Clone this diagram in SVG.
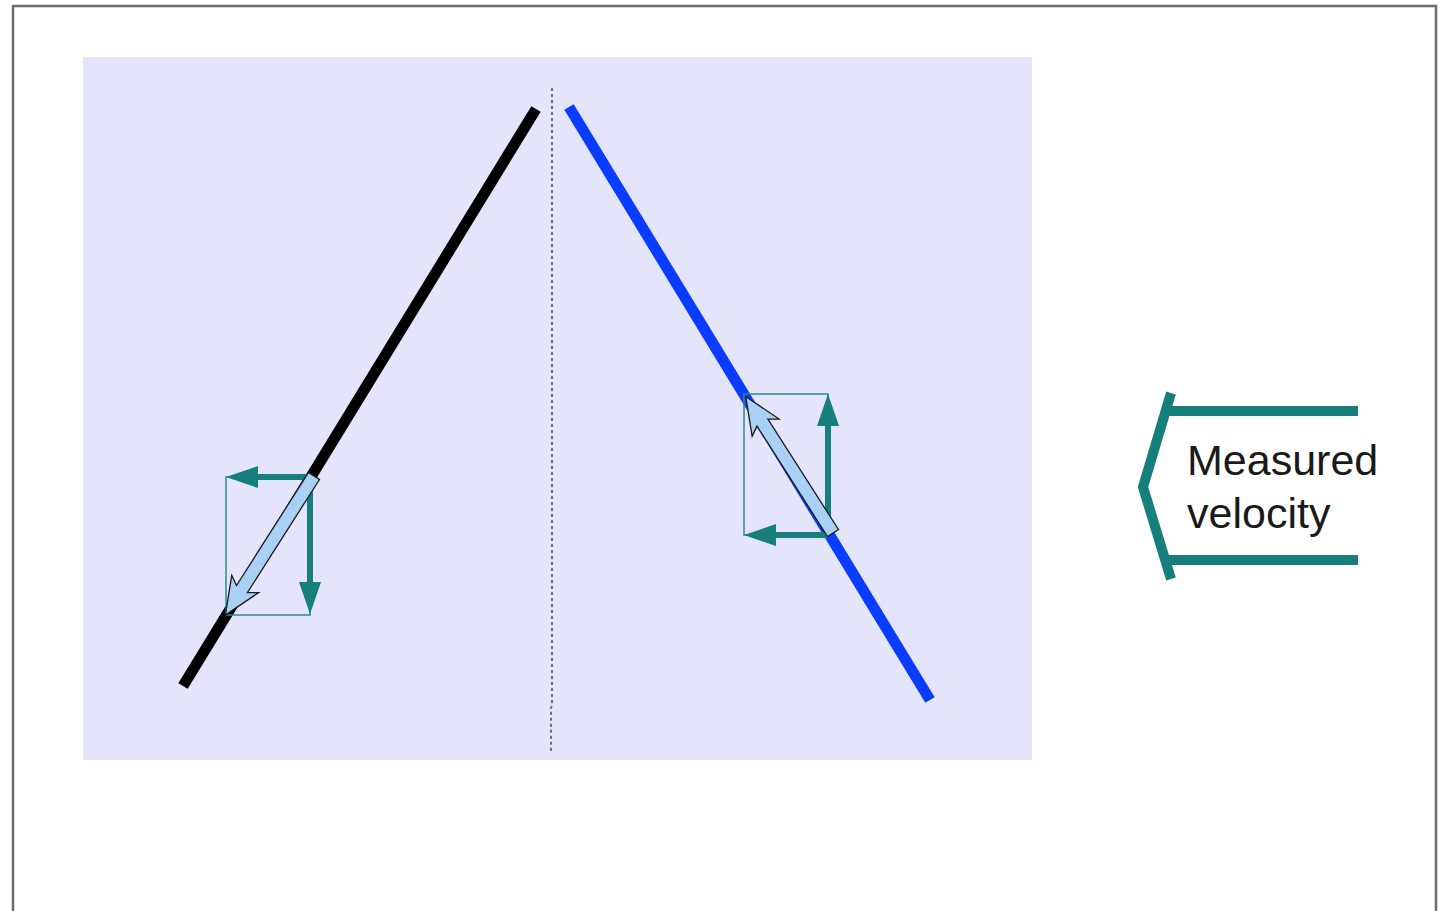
<svg xmlns="http://www.w3.org/2000/svg" width="1441" height="911" viewBox="0 0 1441 911">
<defs>
<style>
.teal{stroke:#167f7b;fill:none}
.vec{stroke:#167f7b;stroke-width:6;fill:none}
.head{fill:#167f7b;stroke:none}
.box{stroke:#2a8c88;stroke-width:1.5;fill:none}
.block{fill:#a9d0f5;stroke:#1a1a1a;stroke-width:1.3;stroke-linejoin:miter}
.lbl{font-family:"Liberation Sans",Arial,sans-serif;font-size:43px;fill:#1a1a1a}
</style>
</defs>
<rect width="1441" height="911" fill="#ffffff"/>
<path d="M13,920 L13,6 L1436,6 L1436,920" fill="none" stroke="#6e6e6e" stroke-width="2.5"/>
<rect id="panel" x="83" y="57" width="949" height="703" fill="#e4e4fa"/>
<g id="axis">
<path d="M552,88 L552,705 L551,708 L551,752" fill="none" stroke="#6a6a80" stroke-width="2" stroke-dasharray="3,3"/>
</g>
<g id="black-line"><line x1="536" y1="109" x2="183" y2="686" stroke="#000000" stroke-width="11"/></g>
<g id="blue-line"><line x1="569" y1="107" x2="930" y2="700" stroke="#0a3cff" stroke-width="11"/></g>
<g id="left-vectors">
<rect class="box" x="226" y="477" width="84" height="138"/>
<line class="vec" x1="310" y1="477" x2="252" y2="477"/>
<polygon class="head" points="226,477 258,466 258,488"/>
<line class="vec" x1="310" y1="477" x2="310" y2="588"/>
<polygon class="head" points="310,614 299,582 321,582"/>
<path class="block" transform="translate(314,476) rotate(122.5)" d="M0,-6.5 L134,-6.5 L128,-16 L165,0 L128,16 L134,6.5 L0,6.5 Z"/>
</g>
<g id="right-vectors">
<rect class="box" x="744" y="394" width="84" height="141"/>
<line class="vec" x1="828" y1="535" x2="828" y2="420"/>
<polygon class="head" points="828,394 817,426 839,426"/>
<line class="vec" x1="828" y1="535" x2="770" y2="535"/>
<polygon class="head" points="744,535 776,524 776,546"/>
<path class="block" transform="translate(833,533) rotate(-122.6)" d="M0,-6.5 L131,-6.5 L125,-16 L162,0 L125,16 L131,6.5 L0,6.5 Z"/>
</g>
<g id="measured-velocity">
<polyline class="teal" stroke-width="10" points="1171,393 1143,487 1171,579"/>
<line class="teal" stroke-width="10" x1="1168" y1="411" x2="1358" y2="411"/>
<line class="teal" stroke-width="10" x1="1168" y1="560" x2="1358" y2="560"/>
<text class="lbl" x="1187" y="475">Measured</text>
<text class="lbl" x="1187" y="528">velocity</text>
</g>
</svg>
